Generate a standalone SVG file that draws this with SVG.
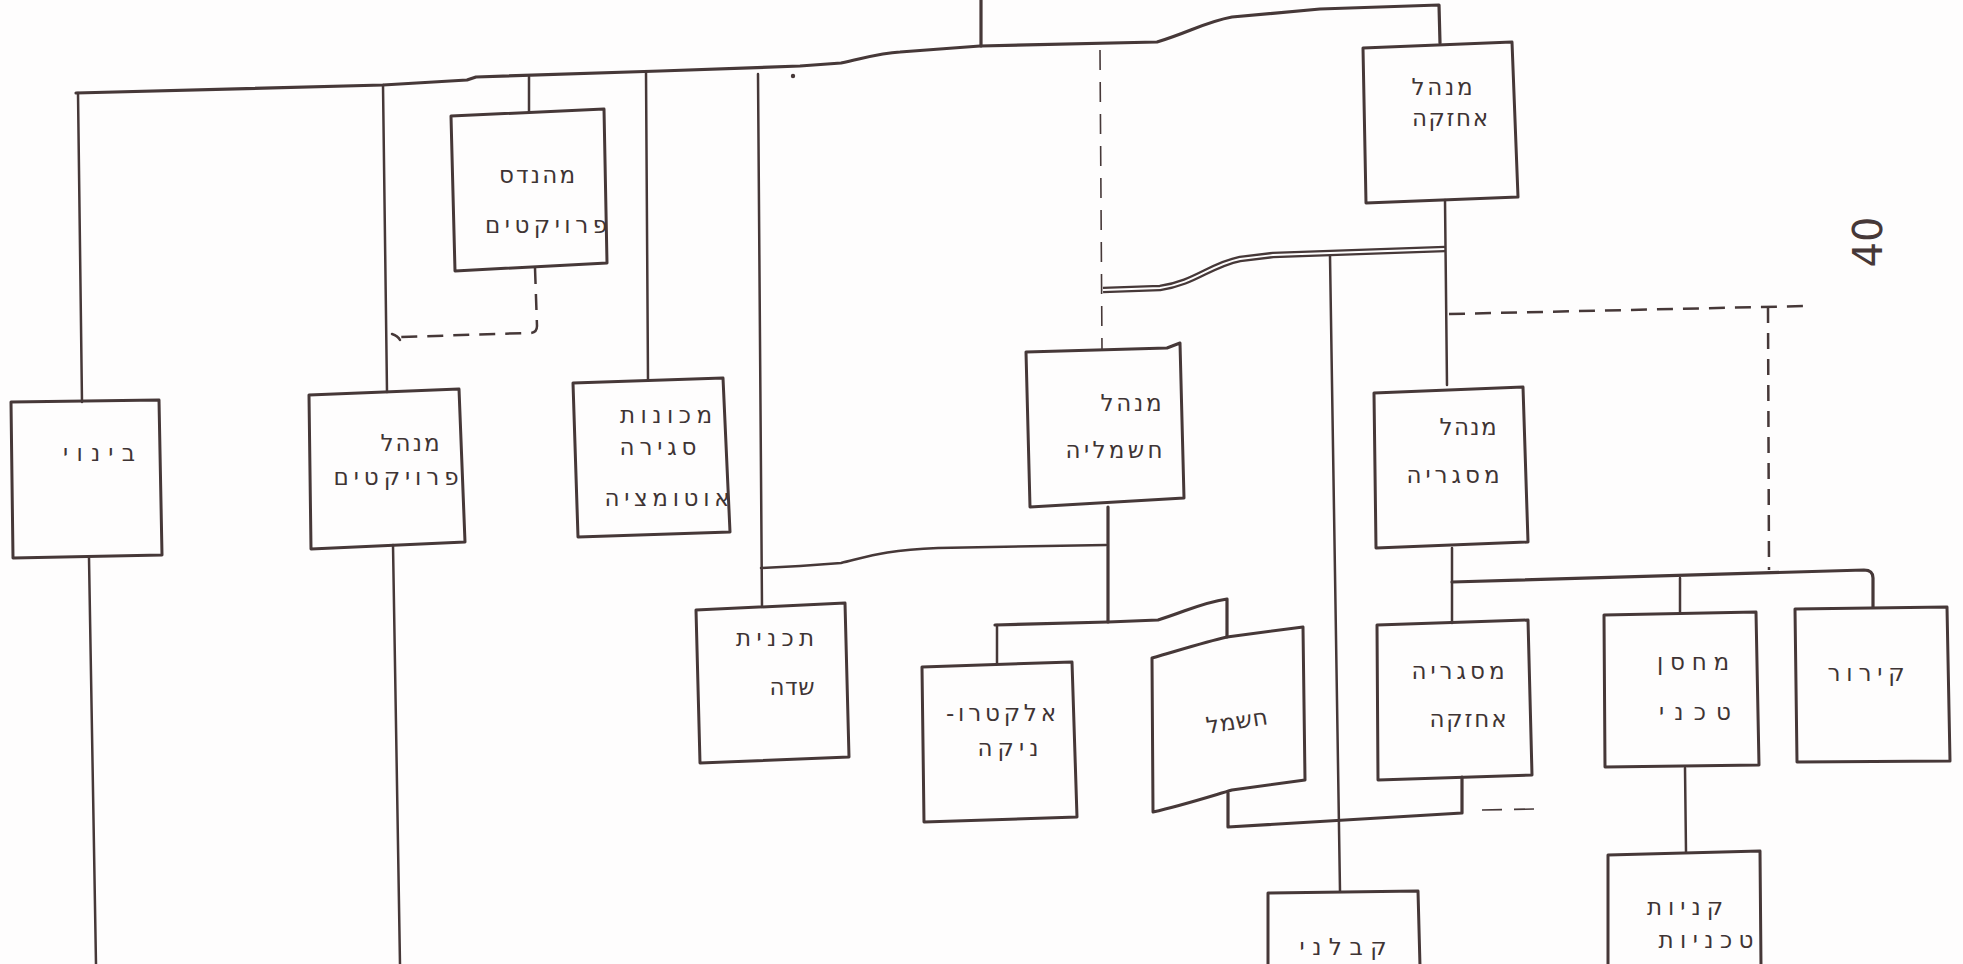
<svg xmlns="http://www.w3.org/2000/svg" width="1963" height="964" viewBox="0 0 1963 964">
<style>
.box{fill:none;stroke:#463838;stroke-width:3;stroke-linejoin:round}
.ln{fill:none;stroke:#463838;stroke-width:2.5;stroke-linecap:round;stroke-linejoin:round}
.thk{fill:none;stroke:#463838;stroke-width:3.2;stroke-linecap:round;stroke-linejoin:round}
.dsh{fill:none;stroke:#463838;stroke-width:2.5;stroke-dasharray:16 10}
.dshthin{fill:none;stroke:#463838;stroke-width:1.6;stroke-dasharray:20 12}
.t{font-family:"DejaVu Sans","Liberation Sans",sans-serif;font-size:23px;fill:#3e3434;direction:rtl;text-anchor:middle}
</style>
<rect width="1963" height="964" fill="#fefdfd"/>
<g id="connectors">
<path class="thk" d="M981,0 L981,46"/>
<path class="thk" d="M76,93 L383,85 L467,80 L476,77 L660,71 L800,66 L841,63 C865,58 880,53 900,52 L980,46 L1157,42 C1190,32 1205,22 1232,17 L1320,9 L1439,5 L1440,43"/>
<path class="ln" d="M78,93 L82,402"/>
<path class="ln" d="M89,558 L96,964"/>
<path class="ln" d="M383,85 L387,392"/>
<path class="ln" d="M393,545 L400,964"/>
<path class="ln" d="M529,77 L529,112"/>
<path class="dsh" d="M535,268 L537,326 Q537,334 527,333 L400,337"/>
<path class="ln" d="M392,334 Q398,336 400,340"/>
<path class="ln" d="M646,72 L648,380"/>
<path class="ln" d="M758,74 L762,607"/>
<path class="ln" d="M761,568 L800,566 L841,563 C870,556 885,550 938,548 L1106,545"/>
<circle cx="793" cy="76" r="2.2" fill="#463838"/>
<path class="dshthin" d="M1100,50 L1102,350"/>
<path d="M1103,290 L1160,288 C1195,283 1210,265 1240,259 L1273,255 L1445,249" fill="none" stroke="#463838" stroke-width="6.5" stroke-linejoin="round"/>
<path d="M1103,290 L1160,288 C1195,283 1210,265 1240,259 L1273,255 L1445,249" fill="none" stroke="#fefdfd" stroke-width="1.8" stroke-linejoin="round"/>
<path class="ln" d="M1445,200 L1447,385"/>
<path class="ln" d="M1330,256 L1340,891"/>
<path class="dsh" d="M1449,314 L1807,306"/>
<path class="dsh" d="M1768,307 L1769,570"/>
<path class="thk" d="M1108,507 L1108,622"/>
<path class="thk" d="M995,625 L1108,622 L1158,620 C1185,612 1200,603 1227,599 L1227,637"/>
<path class="ln" d="M997,625 L997,663"/>
<path class="thk" d="M1228,793 L1228,827 L1462,813 L1462,777"/>
<path class="dshthin" d="M1482,810 L1535,809"/>
<path class="ln" d="M1452,548 L1452,623"/>
<path class="thk" d="M1452,582 L1864,570 Q1873,570 1873,578 L1873,607"/>
<path class="ln" d="M1680,578 L1680,613"/>
<path class="ln" d="M1685,768 L1686,852"/>
</g>
<g id="n-binui">
<path class="box" d="M11,402 L159,400 L162,555 L13,558 Z"/>
<text class="t" x="99" y="461" textLength="72" lengthAdjust="spacing">בינוי</text>
</g>
<g id="n-menahel-proyektim">
<path class="box" d="M309,395 L459,389 L465,542 L311,549 Z"/>
<text class="t" x="410" y="451" textLength="59" lengthAdjust="spacing">מנהל</text>
<text class="t" x="396" y="485" textLength="125" lengthAdjust="spacing">פרויקטים</text>
</g>
<g id="n-mehandes">
<path class="box" d="M451,116 L604,109 L607,263 L455,271 Z"/>
<text class="t" x="537" y="183" textLength="76" lengthAdjust="spacing">מהנדס</text>
<text class="t" x="546" y="233" textLength="122" lengthAdjust="spacing">פרויקטים</text>
</g>
<g id="n-mechonot">
<path class="box" d="M573,383 L723,378 L730,532 L578,537 Z"/>
<text class="t" x="666" y="423" textLength="92" lengthAdjust="spacing">מכונות</text>
<text class="t" x="658" y="455" textLength="77" lengthAdjust="spacing">סגירה</text>
<text class="t" x="667" y="506" textLength="125" lengthAdjust="spacing">אוטומציה</text>
</g>
<g id="n-menahel-achzaka">
<path class="box" d="M1363,48 L1512,42 L1518,197 L1366,203 Z"/>
<text class="t" x="1442" y="95" textLength="61" lengthAdjust="spacing">מנהל</text>
<text class="t" x="1450" y="126" textLength="76" lengthAdjust="spacing">אחזקה</text>
</g>
<g id="n-menahel-chashmalia">
<path class="box" d="M1026,352 L1167,348 L1180,343 L1184,498 L1030,507 Z"/>
<text class="t" x="1131" y="411" textLength="61" lengthAdjust="spacing">מנהל</text>
<text class="t" x="1114" y="458" textLength="97" lengthAdjust="spacing">חשמליה</text>
</g>
<g id="n-menahel-masgeria">
<path class="box" d="M1374,393 L1523,387 L1528,542 L1376,548 Z"/>
<text class="t" x="1468" y="435" textLength="57" lengthAdjust="spacing">מנהל</text>
<text class="t" x="1453" y="483" textLength="93" lengthAdjust="spacing">מסגריה</text>
</g>
<g id="n-tochnit-sade">
<path class="box" d="M696,610 L845,603 L849,757 L700,763 Z"/>
<text class="t" x="775" y="646" textLength="78" lengthAdjust="spacing">תכנית</text>
<text class="t" x="792" y="695" textLength="45" lengthAdjust="spacing">שדה</text>
</g>
<g id="n-electronika">
<path class="box" d="M922,667 L1072,662 L1077,817 L924,822 Z"/>
<text class="t" x="1001" y="721" textLength="110" lengthAdjust="spacing">אלקטרו-</text>
<text class="t" x="1008" y="756" textLength="61" lengthAdjust="spacing">ניקה</text>
</g>
<g id="n-chashmal">
<path class="box" d="M1152,658 C1180,650 1205,642 1227,637 L1303,627 L1305,780 L1232,790 C1205,798 1180,806 1153,812 Z"/>
<text class="t" x="1237" y="729" textLength="62" lengthAdjust="spacing" transform="rotate(-9 1237 722)">חשמל</text>
</g>
<g id="n-masgeria-achzaka">
<path class="box" d="M1377,625 L1528,620 L1532,775 L1378,780 Z"/>
<text class="t" x="1458" y="679" textLength="93" lengthAdjust="spacing">מסגריה</text>
<text class="t" x="1468" y="727" textLength="77" lengthAdjust="spacing">אחזקה</text>
</g>
<g id="n-machsan">
<path class="box" d="M1604,615 L1756,612 L1759,765 L1605,767 Z"/>
<text class="t" x="1693" y="670" textLength="72" lengthAdjust="spacing">מחסן</text>
<text class="t" x="1695" y="720" textLength="72" lengthAdjust="spacing">טכני</text>
</g>
<g id="n-kirur">
<path class="box" d="M1795,609 L1947,607 L1950,761 L1797,762 Z"/>
<text class="t" x="1866" y="681" textLength="77" lengthAdjust="spacing">קירור</text>
</g>
<g id="n-kablani">
<path class="box" d="M1268,966 L1268,893 L1418,891 L1420,966"/>
<text class="t" x="1343" y="955" textLength="87" lengthAdjust="spacing">קבלני</text>
</g>
<g id="n-kniyot">
<path class="box" d="M1608,966 L1608,855 L1760,851 L1761,966"/>
<text class="t" x="1685" y="915" textLength="76" lengthAdjust="spacing">קניות</text>
<text class="t" x="1706" y="948" textLength="95" lengthAdjust="spacing">טכניות</text>
</g>
<text font-family="DejaVu Sans, sans-serif" font-size="40" fill="#463838" text-anchor="middle" transform="translate(1882,242) rotate(-90)">40</text>
</svg>
